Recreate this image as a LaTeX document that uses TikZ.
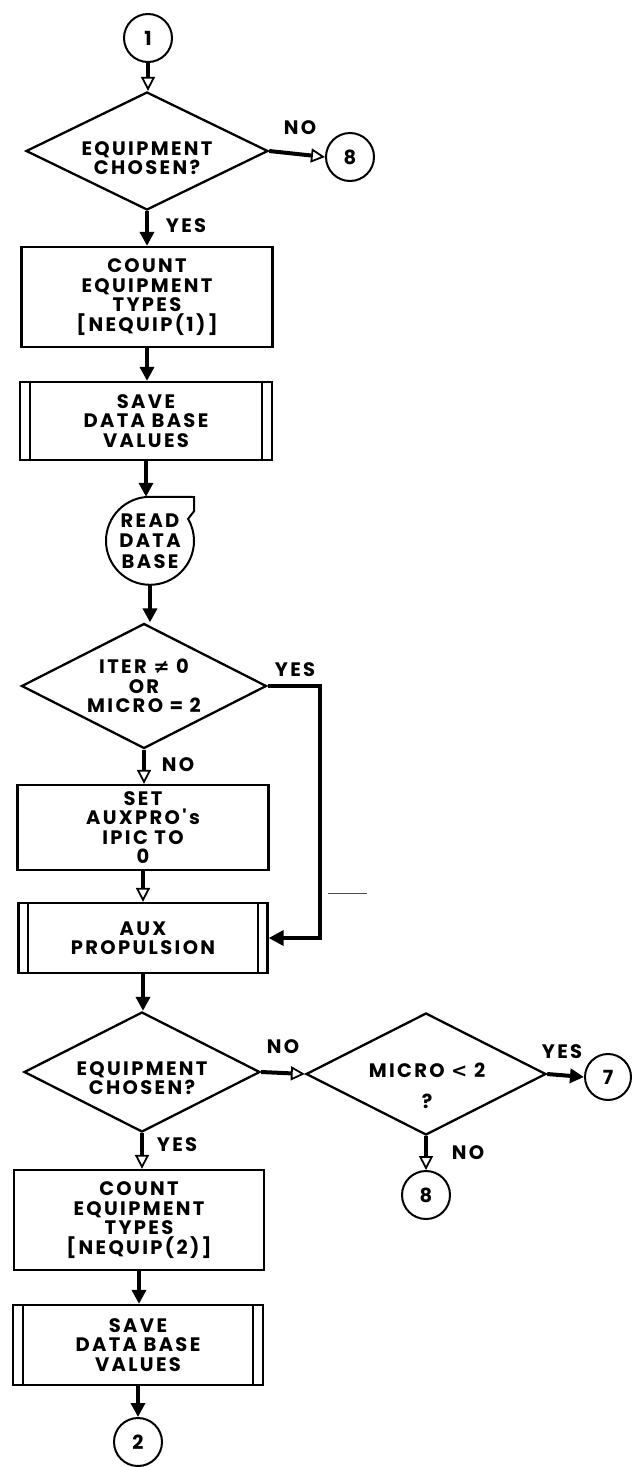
\documentclass[tikz,border=0pt]{standalone}
\usepackage{fontspec}
\setmainfont{Poppins}
\newfontfamily\lab{Poppins}[LetterSpace=12]
\newfontfamily\symf{DejaVu Sans}
\newcommand{\labf}{\lab\bfseries\fontsize{19.5}{19.5}\selectfont}
\usetikzlibrary{shapes.geometric,arrows.meta,calc}
\tikzset{
  x=1pt, y=-1pt,
  lbl/.style={font=\labf, inner sep=0pt},
  txt/.style={lbl, align=center},
  box/.style={draw, line width=2.3pt, inner sep=0pt, align=center, font=\labf},
  dia/.style={draw, shape=diamond, line width=2.3pt, inner sep=0pt},
  term/.style={draw, circle, line width=2pt, minimum size=48pt, inner sep=0pt, font=\labf},
  arr/.style={line width=4pt, -{Triangle[length=14pt,width=14pt]}},
  harr/.style={line width=4pt, -{Triangle[open,length=14pt,width=14pt,line width=1.8pt]}},
  loopline/.style={line width=4.5pt, -{Triangle[length=15pt,width=15pt]}},
}
\begin{document}
\begin{tikzpicture}
\useasboundingbox (0,0) rectangle (632,1467);
% top column
\node[term] (c1) at (148,38) {1};
\node[dia, minimum width=242pt, minimum height=118pt] (d1) at (147,151) {};
\node[txt] (d1t) at (147,158) {EQUIPMENT\\CHOSEN?};
\node[term] (c8a) at (350,157) {8};
\node[box, minimum width=251pt, minimum height=100pt] (b1) at (147,297) {COUNT\\EQUIPMENT\\TYPES\\{[}NEQUIP(1){]}};
\node[box, minimum width=252pt, minimum height=78pt] (b2) at (146,421) {SAVE\\DATA BASE\\VALUES};
\node[circle, minimum size=88pt, inner sep=0pt, align=center, font=\lab\bfseries\fontsize{19.5}{20.5}\selectfont] (r) at (150,541) {READ\\DATA\\BASE};
\node[dia, minimum width=245pt, minimum height=125pt] (d2) at (144,686) {};
\node[txt] (d2t) at (144,686) {ITER {\symf\bfseries ≠} 0\\OR\\MICRO = 2};
\node[box, minimum width=251pt, minimum height=85pt] (b3) at (143,827.5) {SET\\AUXPRO's\\IPIC TO\\0};
\node[box, minimum width=249pt, minimum height=70pt] (b4) at (143,938) {AUX\\PROPULSION};
\coordinate (k1) at (320,686);
\node[dia, minimum width=236pt, minimum height=120pt] (d3) at (142,1072) {};
\node[txt] (d3t) at (142,1078) {EQUIPMENT\\CHOSEN?};
\node[dia, minimum width=240pt, minimum height=122pt] (d4) at (426,1074) {};
\node[txt] (d4t) at (427,1086) {MICRO {\symf\bfseries <} 2\\[12pt]?};
\node[term, minimum size=46pt] (c7) at (608,1077) {7};
\node[term] (c8b) at (426,1195) {8};
\node[box, minimum width=250pt, minimum height=100pt] (b5) at (139,1220) {COUNT\\EQUIPMENT\\TYPES\\{[}NEQUIP(2){]}};
\node[box, minimum width=250pt, minimum height=80pt] (b6) at (138,1345) {SAVE\\DATA BASE\\VALUES};
\node[term] (c2) at (138,1442) {2};
% double side lines of predefined-process boxes
\foreach \b in {b2,b4,b6}{
  \draw[line width=1.8pt] ($(\b.north west)+(11,0)$) -- ($(\b.south west)+(11,0)$);
  \draw[line width=1.8pt] ($(\b.north east)+(-11,0)$) -- ($(\b.south east)+(-11,0)$);
}
% read data base symbol (circle with tab)
\draw[line width=2pt] (r.90) arc[start angle=90, end angle=390, radius=44pt]
  -- ($(r.0)+(0,-30)$) -- ($(r.0)+(0,-44)$) -- (r.90);
% labels
\node[lbl] (n1) at (300,128) {NO};
\node[lbl] (y1) at (186,226) {YES};
\node[lbl] (y2) at (295,670) {YES};
\node[lbl] (n2) at (178,765) {NO};
\node[lbl] (n3) at (283,1047) {NO};
\node[lbl] (y4) at (562,1052) {YES};
\node[lbl] (n4) at (468,1153) {NO};
\node[lbl] (y3) at (177,1145) {YES};
% connectors
\draw[harr] (c1.south) -- (c1.south |- d1.north);
\draw[harr] (d1.east) -- (c8a.west);
\draw[arr] (d1.south) -- (d1.south |- b1.north);
\draw[arr] (b1.south) -- (b1.south |- b2.north);
\draw[arr] (b2.south) -- (b2.south |- r.north);
\draw[arr] (r.south) -- (r.south |- d2.north);
\draw[harr] (d2.south) -- (d2.south |- b3.north);
\draw[loopline] (d2.east) -- (k1) |- (b4.east);
\draw[harr] (b3.south) -- (b3.south |- b4.north);
\draw[arr] (b4.south) -- (b4.south |- d3.north);
\draw[harr] (d3.east) -- (d4.west);
\draw[arr] (d4.east) -- (c7.west);
\draw[harr] (d4.south) -- (d4.south |- c8b.north);
\draw[harr] (d3.south) -- (d3.south |- b5.north);
\draw[arr] (b5.south) -- (b5.south |- b6.north);
\draw[arr] (b6.south) -- (b6.south |- c2.north);
% stray mark in the original
\draw[line width=0.8pt, black!70] (328,893) -- (367,893);
\end{tikzpicture}
\end{document}
